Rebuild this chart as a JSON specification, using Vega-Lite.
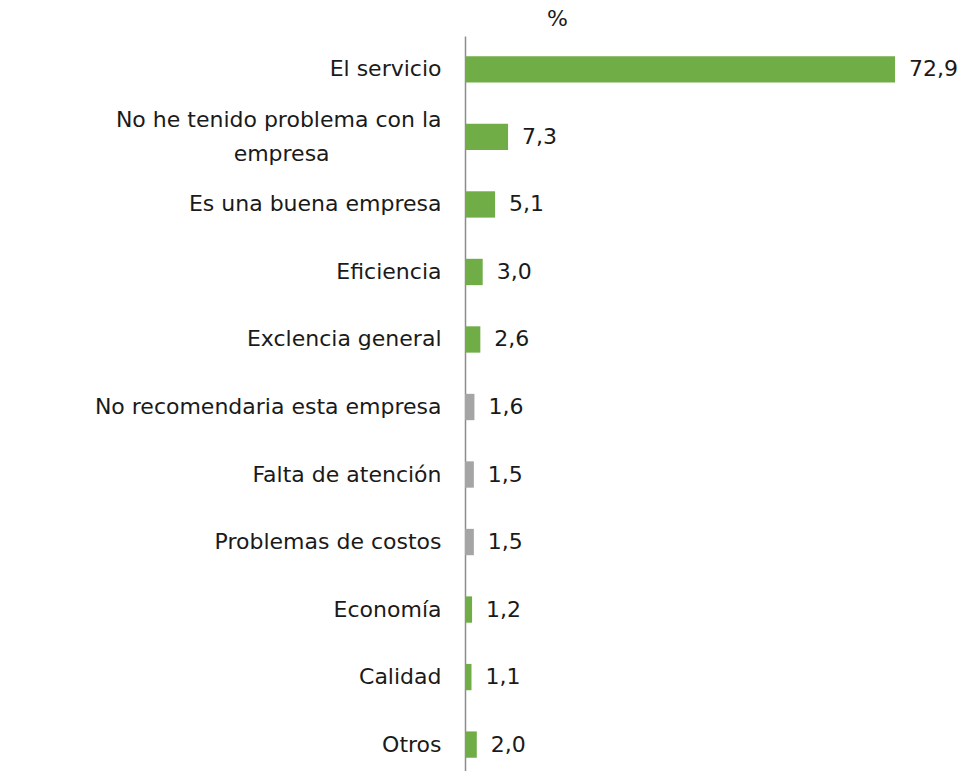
{
  "$schema": "https://vega.github.io/schema/vega-lite/v6.json",
  "autosize": {"type": "none"},
  "padding": {"left": 465, "top": 36, "right": 0, "bottom": 0},
  "width": 515,
  "height": 742,
  "background": "white",
  "config": {
    "view": {"stroke": null},
    "font": "DejaVu Sans",
    "locale": {"number": {"decimal": ",", "thousands": ".", "grouping": [3], "currency": ["", ""]}}
  },
  "data": {
    "values": [
      {"categoria": "El servicio", "valor": 72.9, "tipo": "pos"},
      {"categoria": "No he tenido problema con la empresa", "valor": 7.3, "tipo": "pos"},
      {"categoria": "Es una buena empresa", "valor": 5.1, "tipo": "pos"},
      {"categoria": "Eficiencia", "valor": 3.0, "tipo": "pos"},
      {"categoria": "Exclencia general", "valor": 2.6, "tipo": "pos"},
      {"categoria": "No recomendaria esta empresa", "valor": 1.6, "tipo": "neg"},
      {"categoria": "Falta de atención", "valor": 1.5, "tipo": "neg"},
      {"categoria": "Problemas de costos", "valor": 1.5, "tipo": "neg"},
      {"categoria": "Economía", "valor": 1.2, "tipo": "pos"},
      {"categoria": "Calidad", "valor": 1.1, "tipo": "pos"},
      {"categoria": "Otros", "valor": 2.0, "tipo": "pos"}
    ]
  },
  "encoding": {
    "y": {
      "field": "categoria",
      "type": "nominal",
      "sort": null,
      "scale": {"paddingInner": 0.61, "paddingOuter": 0.3},
      "axis": {
        "title": null,
        "ticks": false,
        "domainColor": "#8c8c8c",
        "domainWidth": 1.5,
        "labelFontSize": 22,
        "labelColor": "#1a1a1a",
        "labelPadding": 24,
        "labelLimit": 500,
        "labelLineHeight": 34,
        "labelOffset": {"condition": {"test": "datum.value == 'No he tenido problema con la empresa'", "value": -17}, "value": 0},
        "labelExpr": "datum.label == 'No he tenido problema con la empresa' ? ['No he tenido problema con la', 'empresa\u00a0\u00a0\u00a0\u00a0\u00a0\u00a0\u00a0\u00a0\u00a0\u00a0\u00a0\u00a0\u00a0\u00a0\u00a0\u00a0\u200b'] : datum.label"
      }
    },
    "x": {
      "field": "valor",
      "type": "quantitative",
      "scale": {"domain": [0, 87.3], "nice": false},
      "axis": {
        "orient": "top",
        "domain": false,
        "ticks": false,
        "labels": false,
        "grid": false,
        "title": "%",
        "titleFontSize": 22,
        "titleFontWeight": "normal",
        "titleColor": "#1a1a1a",
        "titleX": 92,
        "titleY": -6,
        "titleAlign": "center",
        "titleBaseline": "bottom"
      }
    }
  },
  "layer": [
    {
      "mark": {"type": "bar"},
      "encoding": {
        "color": {
          "field": "tipo",
          "type": "nominal",
          "scale": {"domain": ["pos", "neg"], "range": ["#70AD47", "#A5A5A5"]},
          "legend": null
        }
      }
    },
    {
      "mark": {"type": "text", "align": "left", "dx": 14, "fontSize": 22, "color": "#1a1a1a"},
      "encoding": {
        "text": {"field": "valor", "type": "quantitative", "format": ".1f"}
      }
    }
  ]
}
